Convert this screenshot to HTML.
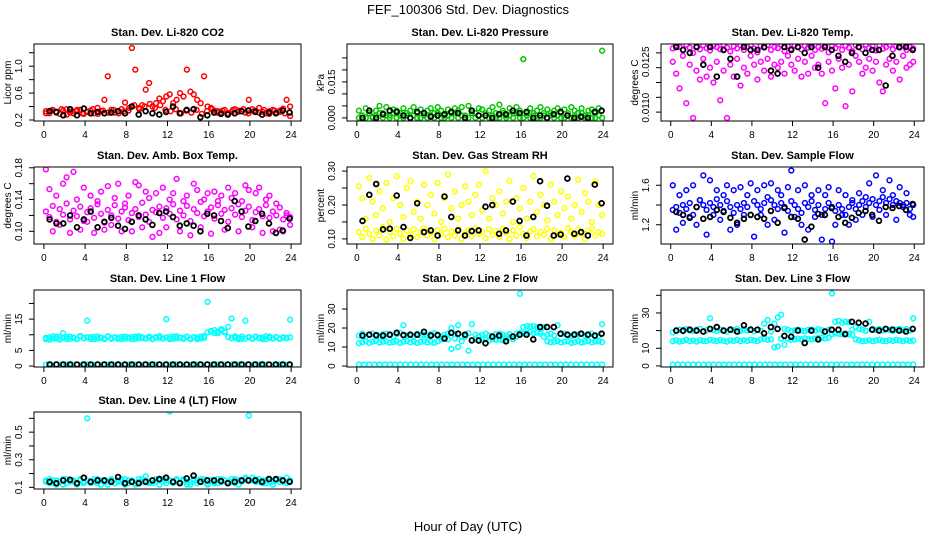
<!DOCTYPE html>
<html><head><meta charset="utf-8"><style>
html,body{margin:0;padding:0;background:#fff;}
svg{display:block;font-family:"Liberation Sans",Arial,sans-serif;}
</style></head><body>
<svg id="chart" width="936" height="540" viewBox="0 0 936 540">
<text x="468" y="14" text-anchor="middle" font-size="13">FEF_100306  Std. Dev. Diagnostics</text>
<text x="468" y="531" text-anchor="middle" font-size="13">Hour of Day (UTC)</text>
</svg>
<script>
// ---- data arrays ----
const co2Red = [0.33,0.30,0.35,0.32,0.29,0.34,0.36,0.31,0.30,0.33,0.35,0.29,0.32,0.34,0.30,0.38,0.33,0.50,0.85,0.35,0.31,0.33,0.36,0.46,0.34,1.27,0.95,0.38,0.42,0.65,0.75,0.40,0.45,0.52,0.48,0.55,0.58,0.45,0.50,0.60,0.55,0.95,0.62,0.58,0.50,0.45,0.85,0.40,0.38,0.34,0.33,0.31,0.35,0.30,0.32,0.36,0.34,0.33,0.31,0.50,0.36,0.34,0.38,0.32,0.30,0.33,0.35,0.31,0.34,0.37,0.50,0.40];
const co2RedB = [0.30,0.34,0.31,0.36,0.28,0.33,0.35,0.30,0.32,0.36,0.29,0.34,0.31,0.35,0.30,0.33,0.38,0.42,0.36,0.40,0.44,0.38,0.42,0.35,0.33,0.36,0.30,0.34,0.31,0.35,0.29,0.33,0.36,0.31,0.34,0.30,0.35,0.32,0.36,0.30,0.33,0.31,0.35,0.29,0.34,0.32,0.30,0.26];
const co2Black = [0.33,0.32,0.27,0.36,0.27,0.37,0.30,0.32,0.30,0.31,0.33,0.30,0.40,0.28,0.33,0.30,0.28,0.32,0.40,0.30,0.35,0.36,0.24,0.27,0.31,0.29,0.28,0.30,0.33,0.34,0.32,0.28,0.31,0.30,0.34,0.31];

const presGreen = [0.003,0.001,0.004,0.002,0.0005,0.003,0.005,0.002,0.0045,0.001,0.0035,0.003,0.002,0.004,0.001,0.003,0.0045,0.002,0.0035,0.001,0.003,0.004,0.002,0.0045,0.003,0.001,0.0035,0.002,0.004,0.003,0.0045,0.001,0.005,0.003,0.002,0.004,0.0035,0.001,0.003,0.0045,0.002,0.0055,0.003,0.001,0.004,0.002,0.0045,0.003,0.0245,0.002,0.004,0.001,0.003,0.0045,0.002,0.0035,0.001,0.003,0.004,0.002,0.0035,0.001,0.0045,0.003,0.002,0.004,0.001,0.003,0.0035,0.002,0.004,0.028];
const presGreenB = [0,0.001,0,0.002,0,0.001,0.002,0,0.001,0,0.002,0,0.001,0,0.002,0,0.001,0,0,0.002,0,0.001,0,0.002,0,0,0.001,0,0.002,0,0.001,0,0,0.002,0,0.001,0,0.002,0,0.001,0,0,0.002,0,0.001,0,0.002,0,0,0.001,0,0.002,0,0,0.001,0,0.002,0,0.001,0,0,0.002,0,0.001,0,0.002,0,0.001,0,0,0.001,0];
const presBlack = [0,0.003,0,0.0015,0.003,0.0025,0.001,0,0.0025,0.002,0.0005,0.001,0.0015,0.0025,0.002,0,0.003,0.001,0.001,0,0.0015,0.0015,0.003,0.002,0.0025,0,0.001,0,0.0015,0.0025,0.001,0,0.0005,0,0.0025,0.003];

const tempMag = [0.01265,0.01275,0.0127,0.0126,0.01278,0.01268,0.0125,0.01272,0.01262,0.01276,0.01266,0.01258,0.01274,0.0127,0.01262,0.01278,0.01268,0.01255,0.01272,0.01265,0.01276,0.0126,0.0127,0.01278,0.01264,0.01252,0.01274,0.01268,0.01277,0.0126,0.0127,0.01266,0.01278,0.01256,0.01272,0.01264,0.01276,0.0127,0.01262,0.01274,0.01268,0.01278,0.0126,0.0127,0.01264,0.01276,0.01252,0.01272,0.01266,0.01278,0.0126,0.01274,0.01268,0.01256,0.01276,0.0127,0.01262,0.01278,0.01266,0.01272,0.01258,0.01276,0.01264,0.0127,0.01278,0.01262,0.01272,0.01268,0.01276,0.0126,0.0127,0.01265];
const tempMagB = [0.0122,0.0118,0.0113,0.0124,0.0108,0.0121,0.0103,0.0119,0.0116,0.0123,0.0117,0.0120,0.0115,0.0122,0.0109,0.0119,0.0103,0.0121,0.0117,0.0123,0.0114,0.0120,0.0118,0.0124,0.0121,0.0116,0.0122,0.0119,0.0123,0.0117,0.0121,0.0120,0.0122,0.0118,0.0124,0.0121,0.0119,0.0123,0.0117,0.0122,0.0118,0.0124,0.0120,0.0121,0.0118,0.0108,0.0122,0.0119,0.0113,0.0123,0.0120,0.0107,0.0121,0.0112,0.0124,0.0122,0.0118,0.0120,0.0123,0.0119,0.0122,0.0115,0.0112,0.0121,0.0123,0.0119,0.0122,0.0116,0.0124,0.0120,0.0121,0.0122];
const tempBlack = [0.0127,0.0126,0.0125,0.0127,0.0121,0.0127,0.0117,0.0126,0.0123,0.0117,0.0127,0.0126,0.0126,0.0127,0.0119,0.0118,0.0127,0.0126,0.0127,0.0125,0.0127,0.0120,0.0127,0.0126,0.0124,0.0122,0.0125,0.0127,0.0125,0.0126,0.0126,0.0114,0.0124,0.0127,0.0127,0.0126];

const ambMag = [0.125,0.118,0.132,0.112,0.128,0.121,0.135,0.115,0.126,0.119,0.131,0.113,0.124,0.129,0.117,0.134,0.122,0.111,0.127,0.12,0.133,0.116,0.125,0.13,0.114,0.123,0.128,0.118,0.136,0.121,0.112,0.127,0.124,0.131,0.117,0.129,0.122,0.134,0.115,0.126,0.12,0.132,0.113,0.128,0.123,0.137,0.119,0.125,0.13,0.116,0.133,0.122,0.127,0.112,0.129,0.121,0.134,0.118,0.126,0.131,0.114,0.124,0.128,0.119,0.133,0.117,0.125,0.12,0.13,0.115,0.123,0.118];
const ambMagB = [0.178,0.153,0.1,0.145,0.108,0.16,0.168,0.098,0.175,0.14,0.102,0.155,0.112,0.145,0.098,0.138,0.15,0.102,0.157,0.108,0.142,0.16,0.100,0.135,0.145,0.1,0.162,0.158,0.105,0.15,0.142,0.093,0.148,0.098,0.155,0.105,0.14,0.148,0.166,0.1,0.138,0.145,0.095,0.16,0.152,0.105,0.14,0.148,0.097,0.15,0.138,0.145,0.102,0.155,0.142,0.148,0.1,0.138,0.158,0.152,0.105,0.148,0.155,0.098,0.14,0.145,0.1,0.135,0.102,0.1,0.12,0.108];
const ambBlack = [0.115,0.11,0.11,0.12,0.105,0.115,0.125,0.105,0.112,0.117,0.107,0.103,0.112,0.12,0.115,0.108,0.123,0.125,0.118,0.107,0.11,0.107,0.1,0.122,0.12,0.113,0.104,0.138,0.125,0.106,0.113,0.122,0.11,0.098,0.101,0.116];

const rhYellow = [0.12,0.105,0.13,0.115,0.1,0.125,0.11,0.135,0.098,0.12,0.108,0.13,0.115,0.1,0.125,0.112,0.128,0.105,0.12,0.132,0.11,0.118,0.1,0.126,0.114,0.13,0.105,0.122,0.11,0.128,0.1,0.118,0.125,0.108,0.132,0.115,0.12,0.102,0.128,0.112,0.124,0.106,0.13,0.118,0.1,0.125,0.11,0.135,0.115,0.102,0.122,0.128,0.108,0.12,0.113,0.13,0.1,0.125,0.112,0.118,0.105,0.132,0.12,0.108,0.128,0.115,0.1,0.124,0.13,0.11,0.12,0.115];
const rhYellowB = [0.255,0.22,0.16,0.28,0.21,0.17,0.24,0.19,0.265,0.15,0.22,0.285,0.2,0.165,0.25,0.27,0.18,0.21,0.16,0.26,0.2,0.23,0.175,0.265,0.15,0.22,0.29,0.19,0.24,0.16,0.2,0.255,0.21,0.17,0.23,0.26,0.185,0.3,0.16,0.22,0.2,0.24,0.175,0.21,0.27,0.15,0.22,0.19,0.25,0.16,0.21,0.285,0.18,0.23,0.2,0.155,0.26,0.21,0.17,0.24,0.19,0.225,0.16,0.2,0.275,0.18,0.235,0.21,0.15,0.27,0.2,0.17];
const rhBlack = [0.153,0.23,0.262,0.128,0.13,0.228,0.135,0.103,0.205,0.12,0.125,0.11,0.225,0.165,0.125,0.11,0.123,0.125,0.195,0.2,0.115,0.125,0.21,0.153,0.11,0.165,0.27,0.198,0.11,0.113,0.278,0.115,0.12,0.11,0.26,0.205];

const flowBlue = [1.35,1.38,1.32,1.4,1.36,1.42,1.3,1.38,1.45,1.4,1.35,1.42,1.38,1.46,1.4,1.34,1.44,1.38,1.32,1.4,1.36,1.42,1.38,1.3,1.44,1.4,1.36,1.42,1.48,1.45,1.4,1.36,1.42,1.38,1.34,1.44,1.4,1.36,1.32,1.42,1.38,1.44,1.35,1.4,1.3,1.36,1.42,1.38,1.34,1.4,1.36,1.3,1.38,1.42,1.36,1.4,1.44,1.38,1.42,1.46,1.4,1.44,1.48,1.42,1.46,1.4,1.44,1.42,1.38,1.42,1.36,1.4];
const flowBlueB = [1.6,1.15,1.5,1.22,1.55,1.28,1.6,1.2,1.45,1.7,1.1,1.65,1.3,1.55,1.25,1.5,1.6,1.15,1.55,1.2,1.58,1.3,1.5,1.62,1.08,1.55,1.3,1.6,1.2,1.62,1.25,1.55,1.5,1.12,1.58,1.75,1.28,1.55,1.2,1.6,1.15,1.5,1.28,1.55,1.05,1.5,1.58,1.03,1.2,1.55,1.3,1.5,1.2,1.45,1.25,1.52,1.3,1.48,1.62,1.28,1.7,1.35,1.55,1.3,1.65,1.5,1.25,1.58,1.4,1.52,1.3,1.28];
const flowBlack = [1.33,1.3,1.27,1.38,1.26,1.28,1.35,1.33,1.27,1.22,1.26,1.3,1.28,1.26,1.34,1.22,1.37,1.28,1.26,1.05,1.18,1.31,1.3,1.37,1.28,1.22,1.27,1.32,1.34,1.3,1.24,1.38,1.37,1.39,1.35,1.41];

const line1Cyan = [9,8.5,9.5,8.8,9.2,10.5,8.6,9.4,9,8.7,9.6,8.9,14.5,9.2,8.6,9.4,9,8.8,9.5,8.7,9.2,9,8.6,9.4,8.9,9.3,8.7,9.5,9,8.8,9.4,8.6,9.1,9.6,8.8,15,9.2,8.7,9.5,9,8.9,9.4,8.6,9.3,9,8.8,9.6,20.5,11,11.5,10.5,11.8,11,12.5,15.2,9.5,9,8.7,14.5,9.3,8.8,9.4,9,8.6,9.5,9.1,8.8,9.3,8.7,9.2,9,14.8];
const line1CyanB = [8.6,9.2,8.8,9.4,8.5,9,9.3,8.7,9.1,8.6,9.4,8.9,9.2,8.7,9.3,8.8,9.1,8.6,9.4,8.9,9.2,8.7,9.3,8.8,9.1,8.6,9.4,8.9,9.2,8.8,9.1,8.7,9.3,9,8.8,9.2,8.6,9.4,8.9,9.1,8.7,9.3,8.8,9.2,8.6,9.4,9,10.8,11.2,10.6,11,11.4,10.8,9.3,8.9,9.1,8.6,9.4,8.8,9.2,8.7,9.3,8.9,9.1,8.6,9.4,8.8,9.2,8.7,9.1,8.9,9.2];
const line1Zero = [0.5,0.5,0.5,0.5,0.5,0.5,0.5,0.5,0.5,0.5,0.5,0.5,0.5,0.5,0.5,0.5,0.5,0.5,0.5,0.5,0.5,0.5,0.5,0.5,0.5,0.5,0.5,0.5,0.5,0.5,0.5,0.5,0.5,0.5,0.5,0.5,0.5,0.5,0.5,0.5,0.5,0.5,0.5,0.5,0.5,0.5,0.5,0.5];
const line1Black = [0.5,0.5,0.5,0.5,0.5,0.5,0.5,0.5,0.5,0.5,0.5,0.5,0.5,0.5,0.5,0.5,0.5,0.5,0.5,0.5,0.5,0.5,0.5,0.5,0.5,0.5,0.5,0.5,0.5,0.5,0.5,0.5,0.5,0.5,0.5,0.5];

const line2CyanU = [16,17,15.5,16.5,17,16,15.8,16.8,17,16.2,15.5,16.8,17.5,21.5,16,16.5,15.8,17,16.2,16.6,15.9,16.8,17.2,16,15.5,16.5,17,20,16.8,21.5,15.5,16,17.2,22,16.5,15.8,16.4,17,16,15.6,16.8,17,16.5,16,16.8,15.5,17,38,20.5,21,20.8,21,20.5,17,20.5,16.5,17,16,21.5,16.8,17,16.2,15.8,16.8,16.5,17,16,16.6,17,16.2,15.8,22];
const line2CyanL = [12,12.5,13,12.2,12.8,13.2,12.4,12.8,13,12.3,12.6,13,12.2,12.8,13.2,12.5,12.9,12.2,12.7,13,12.4,12.8,12.2,13,14,15,14,9,14.5,10,13,15.5,8,13.5,14,13.2,13.8,14,13.5,14.2,13.8,14,13.6,14.5,15,14.2,15.5,17.5,17,17.5,18,17.2,17.6,18,15.5,13,12.5,12.8,13.2,12.4,12.8,13,12.2,12.6,13,12.4,12.8,13.2,12.5,12.9,13,12.6];
const line2Zero = [0.8,0.8,0.8,0.8,0.8,0.8,0.8,0.8,0.8,0.8,0.8,0.8,0.8,0.8,0.8,0.8,0.8,0.8,0.8,0.8,0.8,0.8,0.8,0.8,0.8,0.8,0.8,0.8,0.8,0.8,0.8,0.8,0.8,0.8,0.8,0.8,0.8,0.8,0.8,0.8,0.8,0.8,0.8,0.8,0.8,0.8,0.8,0.8];
const line2Black = [16,16.5,16.2,16,16.5,17.5,16.3,16.5,16.5,18,16,16.3,14.5,17.5,17,16.5,13.5,13.5,12,15.5,16,13,15.5,16.5,16.5,14,20.5,20.5,20.5,17,16.5,16.5,17,16.5,16,17];

const line3CyanU = [19,20,20.5,19.5,20.8,20,19.8,20.5,21,19.6,20.2,27,20.4,19.8,20.6,20,19.5,20.8,20.2,21,19.7,20.4,20,20.8,19.6,20.5,20,24,26,19.5,24,27.5,29,21,20.5,19.8,20.2,20.6,20,19.8,20.4,20.6,20,20.8,20.2,19.6,20.4,41,25,25.5,24.5,25,24.8,20.5,22,21,20.5,20,25,21,20.4,20.8,20,21,20.4,19.8,20.6,21,20.2,20.8,20,27];
const line3CyanL = [14,14.5,13.8,14.2,14.8,14,14.4,13.8,14.6,14.2,14,14.8,14.4,14,14.6,14.2,13.8,14.5,14.2,14.8,14,14.5,14.2,14.8,14.4,14,15,15.4,14.8,15,10.5,11,15.5,12,15.5,14.8,15,15.4,15,15.6,15.2,15,15.5,15.8,16,15.6,16,18,18.5,18.2,18,18.4,18,17.5,15,14.5,14,14.2,14.6,14,14.4,14.8,14.2,14,14.6,14.2,14.8,14.4,14,14.6,14.2,14.4];
const line3Zero = [0.8,0.8,0.8,0.8,0.8,0.8,0.8,0.8,0.8,0.8,0.8,0.8,0.8,0.8,0.8,0.8,0.8,0.8,0.8,0.8,0.8,0.8,0.8,0.8,0.8,0.8,0.8,0.8,0.8,0.8,0.8,0.8,0.8,0.8,0.8,0.8,0.8,0.8,0.8,0.8,0.8,0.8,0.8,0.8,0.8,0.8,0.8,0.8];
const line3Black = [20,20,20.5,20,19.5,21,22,20,20.5,19.5,23,20.5,20.5,18.5,22,21,17,16.5,20,13,20,15,19.5,20.5,20.5,18,25,24.5,24,20.5,20,21,20.5,20,19.5,21];

const line4Cyan = [0.14,0.13,0.15,0.12,0.14,0.16,0.13,0.15,0.14,0.12,0.15,0.13,0.60,0.14,0.16,0.13,0.15,0.14,0.12,0.15,0.13,0.14,0.16,0.12,0.15,0.14,0.13,0.16,0.14,0.18,0.13,0.15,0.14,0.12,0.16,0.15,0.65,0.13,0.15,0.14,0.16,0.12,0.14,0.15,0.13,0.16,0.14,0.12,0.15,0.13,0.16,0.14,0.15,0.13,0.14,0.16,0.12,0.15,0.17,0.62,0.15,0.14,0.16,0.13,0.15,0.14,0.12,0.16,0.14,0.15,0.17,0.14];
const line4CyanB = [0.15,0.16,0.13,0.15,0.14,0.12,0.16,0.14,0.15,0.13,0.16,0.14,0.15,0.13,0.14,0.16,0.12,0.15,0.14,0.16,0.13,0.15,0.14,0.16,0.13,0.15,0.12,0.14,0.16,0.15,0.14,0.13,0.16,0.15,0.14,0.13,0.15,0.14,0.16,0.13,0.15,0.14,0.12,0.16,0.15,0.14,0.16,0.13,0.15,0.14,0.13,0.16,0.15,0.14,0.16,0.13,0.15,0.14,0.16,0.15,0.17,0.16,0.14,0.15,0.13,0.16,0.14,0.15,0.16,0.14,0.13,0.15];
const line4Black = [0.14,0.13,0.15,0.155,0.13,0.17,0.14,0.15,0.15,0.14,0.175,0.13,0.14,0.13,0.14,0.15,0.16,0.17,0.14,0.13,0.165,0.185,0.14,0.15,0.15,0.145,0.13,0.14,0.15,0.15,0.15,0.14,0.16,0.16,0.15,0.14];

const xTicks = [0,4,8,12,16,20,24];

// ---- layout ----
const NS = "http://www.w3.org/2000/svg";
const svg = document.getElementById('chart');
const colL = [34,347,661], colR = [301,613,924];
const rowT = [44,167,290,412], PH = 77;

function mk(tag, attrs, parent){
  const e = document.createElementNS(NS, tag);
  for (const k in attrs) e.setAttribute(k, attrs[k]);
  (parent||svg).appendChild(e);
  return e;
}

const panels = [
 {key:'co2', title:'Stan. Dev. Li-820 CO2', yl:'Licor ppm', r:0,c:0, dom:[0.185,1.33], ticks:[0.2,0.4,0.6,0.8,1.0,1.2], labs:['0.2','','0.6','','1.0',''],
  series:[[co2RedB,'#ff0000',0],[co2Red,'#ff0000',0],[co2Black,'#000000',1]]},
 {key:'pressure', title:'Stan. Dev. Li-820 Pressure', yl:'kPa', r:0,c:1, dom:[-0.0013,0.0308], ticks:[0,0.005,0.01,0.015,0.02,0.025], labs:['0.000','','','0.015','',''],
  series:[[presGreenB,'#00c800',0],[presGreen,'#00c800',0],[presBlack,'#000000',1]]},
 {key:'temp', title:'Stan. Dev. Li-820 Temp.', yl:'degrees C', r:0,c:2, dom:[0.0102,0.0128], ticks:[0.0125,0.012,0.0115,0.011,0.0105], labs:['','','','',''],
  extraLabs:[[0.0122,'0.0125'],[0.01065,'0.0110']],
  series:[[tempMagB,'#ff00ff',0],[tempMag,'#ff00ff',0],[tempBlack,'#000000',1]]},
 {key:'ambbox', title:'Stan. Dev. Amb. Box Temp.', yl:'degrees C', r:1,c:0, dom:[0.084,0.181], ticks:[0.10,0.12,0.14,0.16,0.18], labs:['0.10','','0.14','','0.18'],
  series:[[ambMagB,'#ff00ff',0],[ambMag,'#ff00ff',0],[ambBlack,'#000000',1]]},
 {key:'rh', title:'Stan. Dev. Gas Stream RH', yl:'percent', r:1,c:1, dom:[0.085,0.312], ticks:[0.10,0.15,0.20,0.25,0.30], labs:['0.10','','0.20','','0.30'],
  series:[[rhYellowB,'#ffff00',0],[rhYellow,'#ffff00',0],[rhBlack,'#000000',1]]},
 {key:'sampleflow', title:'Stan. Dev. Sample Flow', yl:'ml/min', r:1,c:2, dom:[1.005,1.785], ticks:[1.2,1.4,1.6], labs:['1.2','','1.6'],
  series:[[flowBlueB,'#0000ff',0],[flowBlue,'#0000ff',0],[flowBlack,'#000000',1]]},
 {key:'line1', title:'Stan. Dev. Line 1 Flow', yl:'ml/min', r:2,c:0, dom:[-0.3,24.3], ticks:[0,5,10,15,20], labs:['0','5','','15',''],
  series:[[line1Zero,'#00ffff',0],[line1CyanB,'#00ffff',0],[line1Cyan,'#00ffff',0],[line1Black,'#000000',1]]},
 {key:'line2', title:'Stan. Dev. Line 2 Flow', yl:'ml/min', r:2,c:1, dom:[-0.5,40], ticks:[0,10,20,30], labs:['0','10','20','30'],
  series:[[line2Zero,'#00ffff',0],[line2CyanL,'#00ffff',0],[line2CyanU,'#00ffff',0],[line2Black,'#000000',1]]},
 {key:'line3', title:'Stan. Dev. Line 3 Flow', yl:'ml/min', r:2,c:2, dom:[-0.6,43], ticks:[0,10,20,30,40], labs:['0','10','','30',''],
  series:[[line3Zero,'#00ffff',0],[line3CyanL,'#00ffff',0],[line3CyanU,'#00ffff',0],[line3Black,'#000000',1]]},
 {key:'line4', title:'Stan. Dev. Line 4 (LT) Flow', yl:'ml/min', r:3,c:0, dom:[0.088,0.646], ticks:[0.1,0.2,0.3,0.4,0.5,0.6], labs:['0.1','','0.3','','0.5',''],
  series:[[line4CyanB,'#00ffff',0],[line4Cyan,'#00ffff',0],[line4Black,'#000000',1]]}
];

panels.forEach(p => {
  const L = colL[p.c], R = colR[p.c], T = rowT[p.r], B = T + PH;
  const xs = h => L + (h + 0.96) / 25.92 * (R - L);
  const ys = v => B - (v - p.dom[0]) / (p.dom[1] - p.dom[0]) * PH;
  const g = mk('g', {});
  
  
  const ttl = mk('text', {x:(L+R)/2, y:T-8, 'text-anchor':'middle', 'font-size':11, 'font-weight':'bold'}, g);
  ttl.textContent = p.title;
  
  
  // points (clipped)
  const cid = 'clip-' + p.key;
  const cp = mk('clipPath', {id:cid}, g);
  mk('rect', {x:L, y:T, width:R-L, height:PH}, cp);
  const pg = mk('g', {'clip-path':'url(#'+cid+')'}, g);
  
  
  p.series.forEach(s => {
    const vals = s[0], col = s[1], isBlack = s[2];
    const n = vals.length;
    vals.forEach((v, i) => {
      const h = isBlack ? 0.55 + i * 23.3 / (n - 1) : 0.2 + i * 23.7 / (n - 1);
      const c = mk('circle', {cx:xs(h).toFixed(1), cy:ys(v).toFixed(1), r:2.4, fill:'none', stroke:col, 'stroke-width':isBlack?1.8:1.5}, pg);
      
      
    });
  });
  // box
  const box = mk('rect', {x:L, y:T, width:R-L, height:PH, fill:'none', stroke:'#000', 'stroke-width':1}, g);
  
  
  // x axis
  const xa = mk('g', {}, g);
  
  
  mk('line', {x1:xs(xTicks[0]), x2:xs(xTicks[xTicks.length-1]), y1:B, y2:B, stroke:'#000'}, xa);
  xTicks.forEach(t => {
    mk('line', {x1:xs(t), x2:xs(t), y1:B, y2:B+5, stroke:'#000'}, xa);
    const tl = mk('text', {x:xs(t), y:B+17, 'text-anchor':'middle', 'font-size':10}, xa);
    tl.textContent = t;
    
    
  });
  // y axis
  const ya = mk('g', {}, g);
  
  
  const ty = p.ticks.map(ys);
  mk('line', {x1:L, x2:L, y1:Math.min(...ty), y2:Math.max(...ty), stroke:'#000'}, ya);
  p.ticks.forEach((t, i) => {
    const y = ys(t);
    mk('line', {x1:L-5, x2:L, y1:y, y2:y, stroke:'#000'}, ya);
    if (p.labs[i]) {
      const tl = mk('text', {x:L-12, y:y, 'text-anchor':'middle', 'font-size':10, transform:'rotate(-90 '+(L-12)+' '+y+')'}, ya);
      tl.textContent = p.labs[i];
      
      
    }
  });
  (p.extraLabs||[]).forEach(el => {
    const y = ys(el[0]);
    const tl = mk('text', {x:L-12, y:y, 'text-anchor':'middle', 'font-size':10, transform:'rotate(-90 '+(L-12)+' '+y+')'}, ya);
    tl.textContent = el[1];
    
    
  });
  const yt = mk('text', {x:L-23, y:(T+B)/2, 'text-anchor':'middle', 'font-size':10, transform:'rotate(-90 '+(L-23)+' '+((T+B)/2)+')'}, g);
  yt.textContent = p.yl;
  
  
});
</script>
</body></html>
